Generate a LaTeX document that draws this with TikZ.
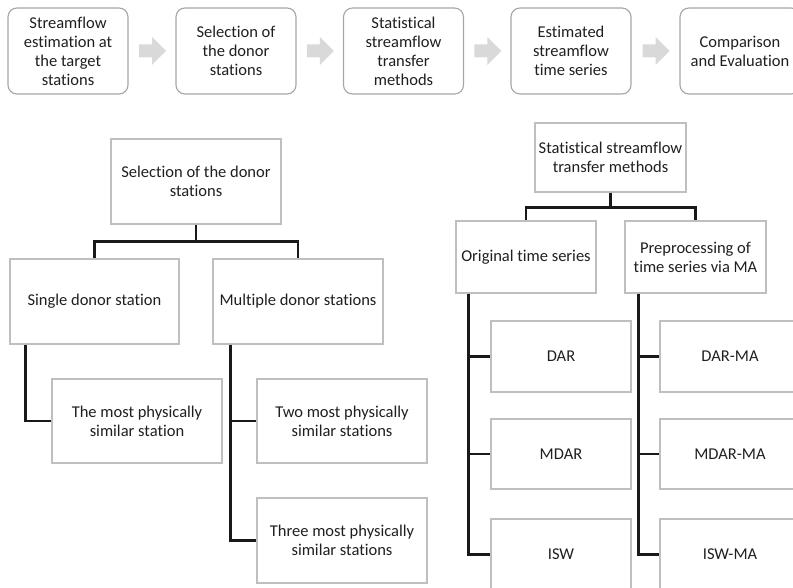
\documentclass[tikz,border=0pt]{standalone}
\usepackage{fontspec}
\setmainfont{Carlito}[Ligatures=NoCommon]
\usepackage{xcolor}
\usetikzlibrary{calc}

\definecolor{boxline}{HTML}{BFBFBF}
\definecolor{stepline}{HTML}{A6A6A6}
\definecolor{arrowfill}{HTML}{D9D9D9}
\definecolor{textgray}{HTML}{1F1F1F}

\tikzset{
  txt/.style={font=\fontsize{16.5}{19}\selectfont, text=textgray, align=center},
  stepbox/.style={txt, draw=stepline, line width=1.1pt, rounded corners=9pt,
    minimum width=120pt, minimum height=86pt, inner sep=2pt},
  treebox/.style={txt, draw=boxline, line width=1.3pt, inner sep=2pt},
  link/.style={black!90, line width=2.4pt},
}

\begin{document}
\begin{tikzpicture}[x=1pt, y=-1pt]
\useasboundingbox (0,0) rectangle (793,588);
\clip (0,0) rectangle (793,588);
% workflow row
\node[stepbox] (s1) at (68,51) {Streamflow\\estimation at\\the target\\stations};
\node[stepbox] (s2) at (236,51) {Selection of\\the donor\\stations};
\node[stepbox] (s3) at (403.5,51) {Statistical\\streamflow\\transfer\\methods};
\node[stepbox] (s4) at (571,51) {Estimated\\streamflow\\time series};
\node[stepbox] (s5) at (740,51) {Comparison\\and Evaluation};
\foreach \a/\b in {s1/s2,s2/s3,s3/s4,s4/s5}
  \fill[arrowfill] ($(\a.east)!0.5!(\b.west)$) ++(-13,-6.5) -- ++(13,0) -- ++(0,-7.5)
    -- ++(14,14) -- ++(-14,14) -- ++(0,-7.5) -- ++(-13,0) -- cycle;

% donor selection tree
\node[treebox, minimum width=170pt, minimum height=85pt] (sel) at (196,181.5) {Selection of the donor\\stations};
\node[treebox, minimum width=169pt, minimum height=85pt] (single) at (94.5,301.5) {Single donor station};
\node[treebox, minimum width=170pt, minimum height=85pt] (multi) at (298,301.5) {Multiple donor stations};
\node[treebox, minimum width=170pt, minimum height=84pt] (most) at (137,421) {The most physically\\similar station};
\node[treebox, minimum width=170pt, minimum height=84pt] (two) at (342,421) {Two most physically\\similar stations};
\node[treebox, minimum width=170pt, minimum height=85pt] (three) at (342,540.5) {Three most physically\\similar stations};

\draw[link] (sel.south) -- ++(0,17) -| (single.north);
\draw[link] (sel.south) -- ++(0,17) -| (multi.north);
\draw[link] ([xshift=16pt]single.south west) |- (most.west);
\draw[link] ([xshift=18pt]multi.south west) |- (two.west);
\draw[link] ([xshift=18pt]multi.south west) |- (three.west);

% transfer methods tree
\node[treebox, minimum width=151pt, minimum height=69pt] (stm) at (610.5,157.5) {Statistical streamflow\\transfer methods};
\node[treebox, minimum width=140pt, minimum height=72pt] (orig) at (526,257) {Original time series};
\node[treebox, minimum width=141pt, minimum height=72pt] (prep) at (695.5,257) {Preprocessing of\\time series via MA};
\node[treebox, minimum width=140pt, minimum height=71pt] (dar) at (561,356.5) {DAR};
\node[treebox, minimum width=140pt, minimum height=70pt] (mdar) at (561,454) {MDAR};
\node[treebox, minimum width=140pt, minimum height=71pt] (isw) at (561,554.5) {ISW};
\node[treebox, minimum width=140pt, minimum height=71pt] (darma) at (730,356.5) {DAR-MA};
\node[treebox, minimum width=140pt, minimum height=70pt] (mdarma) at (730,454) {MDAR-MA};
\node[treebox, minimum width=140pt, minimum height=71pt] (iswma) at (730,554.5) {ISW-MA};

\draw[link] (stm.south) -- ++(0,15) -| (orig.north);
\draw[link] (stm.south) -- ++(0,15) -| (prep.north);
\foreach \m in {dar,mdar,isw}
  \draw[link] ([xshift=13pt]orig.south west) |- (\m.west);
\foreach \m in {darma,mdarma,iswma}
  \draw[link] ([xshift=14pt]prep.south west) |- (\m.west);
\end{tikzpicture}
\end{document}
